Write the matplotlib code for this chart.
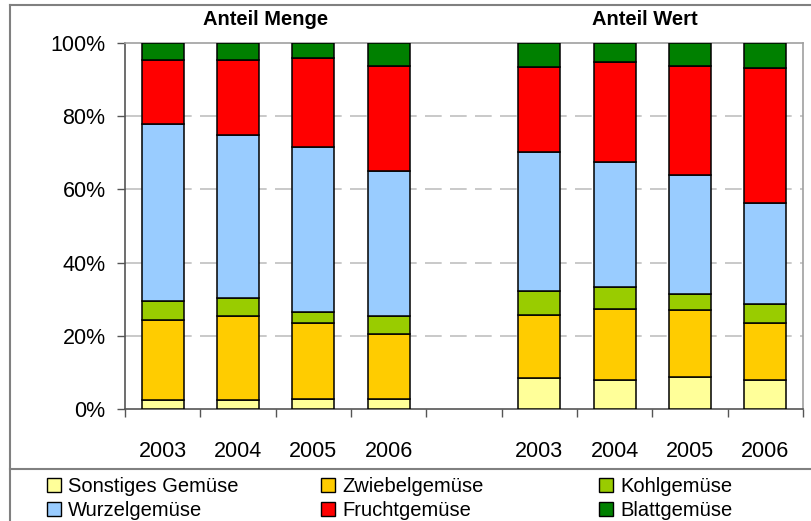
import numpy as np
import matplotlib
matplotlib.use("Agg")
import matplotlib.pyplot as plt
from matplotlib.lines import Line2D
from matplotlib.patches import Patch

plt.rcParams['font.family'] = ['Liberation Sans', 'DejaVu Sans']

# Anteile in %: erst Menge 2003-2006, dann Wert 2003-2006
jahre = ['2003', '2004', '2005', '2006', '', '2003', '2004', '2005', '2006']
sonstiges = [2.5, 2.5, 2.8, 2.8, 8.4, 8.0, 8.8, 8.0]
zwiebel = [21.7, 23.0, 20.6, 17.8, 17.4, 19.4, 18.2, 15.4]
kohl = [5.2, 4.8, 3.2, 4.9, 6.5, 5.8, 4.5, 5.3]
wurzel = [48.6, 44.5, 45.0, 39.5, 38.0, 34.4, 32.3, 27.5]
frucht = [17.4, 20.6, 24.2, 28.8, 23.1, 27.1, 30.0, 36.9]
blatt = [4.6, 4.6, 4.2, 6.2, 6.6, 5.3, 6.2, 6.9]

namen = ['Sonstiges Gemüse', 'Zwiebelgemüse', 'Kohlgemüse',
         'Wurzelgemüse', 'Fruchtgemüse', 'Blattgemüse']
farben = ['#FFFF99', '#FFCC00', '#99CC00', '#99CCFF', '#FF0000', '#008000']
reihen = [sonstiges, zwiebel, kohl, wurzel, frucht, blatt]

x = np.array([0, 1, 2, 3, 5, 6, 7, 8])

fig = plt.figure(figsize=(8.12, 5.21), dpi=100)
ax = fig.add_axes([125 / 812, 1 - 409 / 521, 678 / 812, 366 / 521])

unten = np.zeros(len(x))
for werte, farbe in zip(reihen, farben):
    werte = np.array(werte)
    ax.bar(x, werte, bottom=unten, width=0.56, color=farbe,
           edgecolor='black', linewidth=1.1, zorder=3)
    unten += werte

ax.set_xlim(-0.5, 8.5)
ax.set_ylim(0, 100)

ax.set_yticks([0, 20, 40, 60, 80, 100])
ax.set_yticklabels(['0%', '20%', '40%', '60%', '80%', '100%'], fontsize=15.5)
for y in [20, 40, 60, 80]:
    ax.axhline(y, color='#C0C0C0', linewidth=1.2, dashes=(10, 5), zorder=1)

ax.set_xticks(range(9))
ax.set_xticklabels(jahre, fontsize=15.5)
ax.tick_params(axis='x', which='major', length=0, pad=23)
ax.set_xticks(np.arange(-0.5, 9, 1), minor=True)
ax.tick_params(axis='x', which='minor', length=6, direction='out', width=1, color='#555555')
ax.tick_params(axis='y', length=6, width=1, pad=8, color='#555555')

ax.spines['left'].set_color('#555555')
ax.spines['bottom'].set_color('#555555')
ax.spines['top'].set_color('#A0A0A0')
ax.spines['right'].set_color('#A0A0A0')
for s in ax.spines.values():
    s.set_linewidth(1.2)

ax.text(1.36, 1.063, 'Anteil Menge', transform=ax.get_xaxis_transform(),
        ha='center', va='center', fontsize=14.5, fontweight='bold')
ax.text(6.4, 1.063, 'Anteil Wert', transform=ax.get_xaxis_transform(),
        ha='center', va='center', fontsize=14.5, fontweight='bold')

# Rahmen und Trennlinie zur Legende
grau = '#808080'
fig.add_artist(Line2D([10 / 812, 1], [1 - 5 / 521, 1 - 5 / 521], color=grau, linewidth=1.5))
fig.add_artist(Line2D([10 / 812, 10 / 812], [0, 1 - 5 / 521], color=grau, linewidth=1.5))
fig.add_artist(Line2D([10 / 812, 1], [1 - 469 / 521, 1 - 469 / 521], color=grau, linewidth=1.5))

# Legende in drei Spalten
spalten_x = [47, 321, 599]
for i, sx in enumerate(spalten_x):
    handles = [Patch(facecolor=farben[i], edgecolor='black', linewidth=1),
               Patch(facecolor=farben[i + 3], edgecolor='black', linewidth=1)]
    fig.legend(handles, [namen[i], namen[i + 3]], loc='upper left',
               bbox_to_anchor=(sx / 812, 1 - 477 / 521), frameon=False,
               fontsize=14.5, handlelength=0.7, handleheight=0.7,
               handletextpad=0.35, labelspacing=0.27, borderpad=0, borderaxespad=0)

fig.savefig('out.png', dpi=100)
